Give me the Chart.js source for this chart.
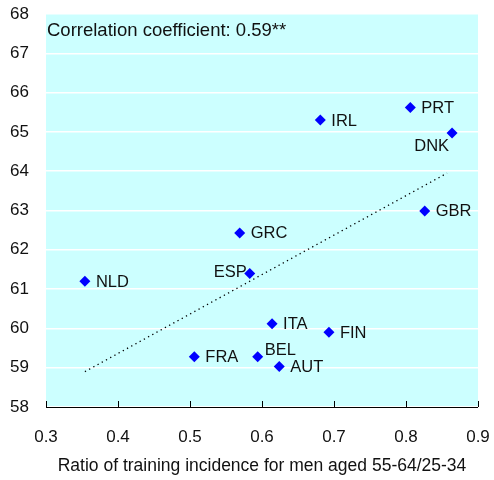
<!DOCTYPE html>
<html>
<head>
<meta charset="utf-8">
<script src="https://cdn.jsdelivr.net/npm/chart.js@4.4.1/dist/chart.umd.min.js"></script>
<style>
  html, body { margin: 0; padding: 0; background: #fff; }
  #wrap { width: 494px; height: 480px; position: relative; }
</style>
</head>
<body>
<div id="wrap"><canvas id="chart"></canvas></div>
<script>
const countries = ["NLD", "FRA", "GRC", "ESP", "BEL", "ITA", "AUT", "FIN", "IRL", "PRT", "DNK", "GBR"];
const trainingRatio = [0.354, 0.506, 0.569, 0.583, 0.594, 0.614, 0.624, 0.693, 0.681, 0.806, 0.864, 0.826];
const employmentRate = [61.2, 59.28, 62.43, 61.4, 59.28, 60.12, 59.03, 59.9, 65.3, 65.62, 64.97, 62.99];
const trendX = [0.354, 0.857];
const trendY = [58.9, 63.95];
const correlationText = "Correlation coefficient: 0.59**";
const xTitle = "Ratio of training incidence for men aged 55-64/25-34";

const FONT = "'Liberation Sans', Arial, sans-serif";

// where each country label sits relative to its marker
const labelPlacement = {
  ESP: { dx: -3, dy: -1, align: "right" },
  DNK: { dx: -3, dy: 13, align: "right" },
  BEL: { dx: 7, dy: -6, align: "left" },
};

const chartBackground = {
  id: "chartBackground",
  beforeDraw(chart) {
    const { ctx, chartArea: a } = chart;
    ctx.save();
    ctx.fillStyle = "#ccffff";
    ctx.fillRect(a.left, a.top, a.right - a.left, a.bottom - a.top + 1);
    ctx.restore();
  },
};

const annotations = {
  id: "annotations",
  afterDatasetsDraw(chart) {
    const { ctx, chartArea: a, scales } = chart;
    ctx.save();
    // x axis line and inward ticks
    ctx.strokeStyle = "#000";
    ctx.lineWidth = 1;
    ctx.beginPath();
    ctx.moveTo(a.left, a.bottom + 0.5);
    ctx.lineTo(a.right, a.bottom + 0.5);
    scales.x.ticks.forEach((t) => {
      const px = Math.round(scales.x.getPixelForValue(t.value)) + 0.5;
      ctx.moveTo(px, a.bottom);
      ctx.lineTo(px, a.bottom - 6);
    });
    ctx.stroke();

    ctx.fillStyle = "#111";
    ctx.textBaseline = "middle";
    ctx.textAlign = "left";
    ctx.font = "18.5px " + FONT;
    ctx.fillText(correlationText, a.left + 1, a.top + 17);

    ctx.font = "16.5px " + FONT;
    const meta = chart.getDatasetMeta(1);
    meta.data.forEach((pt, i) => {
      const name = countries[i];
      const p = labelPlacement[name] || { dx: 11, dy: 1, align: "left" };
      ctx.textAlign = p.align;
      ctx.fillText(name, pt.x + p.dx, pt.y + p.dy);
    });
    ctx.restore();
  },
};

new Chart(document.getElementById("chart"), {
  type: "scatter",
  data: {
    datasets: [
      {
        type: "line",
        data: trendX.map((x, i) => ({ x, y: trendY[i] })),
        borderColor: "#000",
        borderWidth: 1.3,
        borderDash: [1.3, 3.5],
        pointRadius: 0,
        fill: false,
      },
      {
        data: trainingRatio.map((x, i) => ({ x, y: employmentRate[i] })),
        pointStyle: "rectRot",
        pointRadius: 5.5,
        backgroundColor: "#0000ff",
        borderColor: "#0000ff",
        borderWidth: 0,
      },
    ],
  },
  options: {
    responsive: true,
    maintainAspectRatio: false,
    animation: false,
    layout: { padding: { top: 14, right: 16, bottom: 0, left: 0 } },
    plugins: {
      legend: { display: false },
      tooltip: { enabled: false },
    },
    scales: {
      x: {
        type: "linear",
        min: 0.3,
        max: 0.9,
        border: { display: false },
        grid: { display: false, drawTicks: true, tickLength: 20 },
        ticks: {
          stepSize: 0.1,
          padding: 0,
          color: "#111",
          font: { family: FONT, size: 17 },
          callback: (v) => Number(v).toFixed(1),
        },
        title: {
          display: true,
          text: xTitle,
          color: "#111",
          font: { family: FONT, size: 17.5 },
          padding: { top: 0, bottom: 3 },
        },
        afterFit: (scale) => { scale.height = 73; },
      },
      y: {
        min: 58,
        max: 68,
        border: { display: false },
        grid: { color: "#ffffff", lineWidth: 1.5, drawTicks: true, tickLength: 17 },
        ticks: {
          stepSize: 1,
          padding: 0,
          color: "#111",
          font: { family: FONT, size: 17 },
        },
        afterFit: (scale) => { scale.width = 46; },
      },
    },
  },
  plugins: [chartBackground, annotations],
});
</script>
</body>
</html>
